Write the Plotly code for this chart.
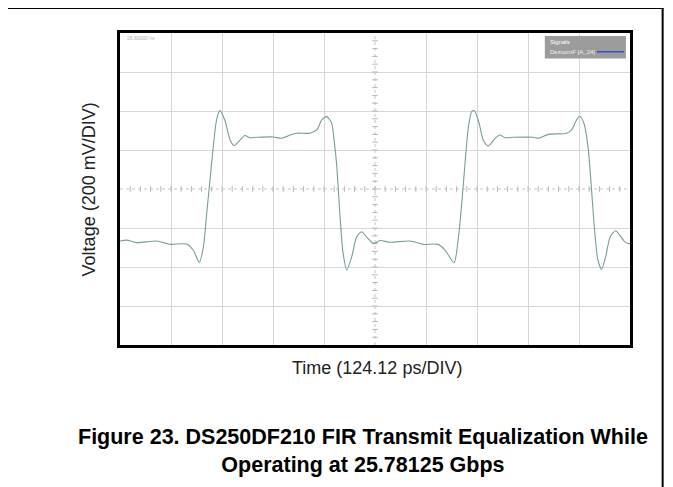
import plotly.graph_objects as go

# ---- data (read from the scope capture) ----
time_ps = [0, 16, 41, 89, 122, 162, 178, 193, 203, 211, 219, 227, 235, 243, 255, 268, 278, 292,
           304, 316, 333, 373, 393, 414, 430, 462, 479, 491, 503, 515, 521, 527, 535, 543, 552,
           564, 576, 588, 600, 617, 633, 657, 706, 738, 774, 791, 813, 823, 831, 839, 848, 856,
           862, 874, 884, 896, 913, 925, 937, 957, 1006, 1018, 1042, 1087, 1099, 1111, 1119,
           1129, 1139, 1147, 1155, 1163, 1172, 1182, 1193, 1206, 1216, 1228, 1236, 1241]
voltage_mv = [-267, -262, -275, -267, -284, -282, -313, -376, -296, -125, 46, 217, 354, 402, 354,
              251, 222, 251, 274, 263, 265, 267, 260, 277, 286, 286, 303, 354, 371, 337, 251, 132,
              -125, -330, -415, -347, -245, -219, -245, -279, -264, -273, -267, -284, -284, -313,
              -378, -261, -91, 114, 320, 397, 402, 337, 251, 221, 260, 277, 263, 265, 265, 260,
              280, 286, 303, 354, 373, 337, 217, 12, -210, -364, -412, -347, -245, -214, -236,
              -270, -279, -280]

PS_PER_DIV = 124.12
MV_PER_DIV = 200
N_XDIV = 10
N_YDIV = 8

x_max = PS_PER_DIV * N_XDIV
y_half = MV_PER_DIV * N_YDIV / 2
x_center = x_max / 2

x_grid = [PS_PER_DIV * k for k in range(1, N_XDIV) if k != N_XDIV // 2]
y_grid = [-y_half + MV_PER_DIV * k for k in range(1, N_YDIV) if k != N_YDIV // 2]

fig = go.Figure()

# center graticule ticks
hx = [PS_PER_DIV / 5 * k for k in range(1, N_XDIV * 5)]
vy = [-y_half + MV_PER_DIV / 5 * k for k in range(1, N_YDIV * 5)]
fig.add_trace(go.Scatter(x=hx, y=[0] * len(hx), mode="markers", hoverinfo="skip",
                         marker=dict(symbol="line-ns", size=4, line=dict(width=1, color="#b8b8b8"))))
fig.add_trace(go.Scatter(x=[x_center] * len(vy), y=vy, mode="markers", hoverinfo="skip",
                         marker=dict(symbol="line-ew", size=4, line=dict(width=1, color="#b8b8b8"))))

fig.add_trace(go.Scatter(x=time_ps, y=voltage_mv, mode="lines",
                         line=dict(color="#789c9c", width=1.1, shape="spline", smoothing=0.7)))

fig.add_shape(type="line", xref="x", yref="y", x0=0, x1=x_max, y0=0, y1=0,
              line=dict(color="#c4c4c4", width=1, dash="dot"), layer="below")
fig.add_shape(type="line", xref="x", yref="y", x0=x_center, x1=x_center, y0=-y_half, y1=y_half,
              line=dict(color="#c4c4c4", width=1, dash="dot"), layer="below")

# page frame lines
fig.add_shape(type="line", xref="paper", yref="paper", x0=-0.25, x1=1.066, y0=1.08, y1=1.08,
              line=dict(color="black", width=2))
fig.add_shape(type="line", xref="paper", yref="paper", x0=1.064, x1=1.064, y0=1.08, y1=-0.5,
              line=dict(color="black", width=2))

# legend box (scope)
fig.add_shape(type="rect", xref="paper", yref="paper", x0=0.833, x1=0.992, y0=0.918, y1=0.99,
              fillcolor="#9c9c9c", line=dict(width=0))
fig.add_shape(type="line", xref="paper", yref="paper", x0=0.935, x1=0.988, y0=0.94, y1=0.94,
              line=dict(color="#3050d0", width=1.5))
fig.add_annotation(xref="paper", yref="paper", x=0.84, y=0.97, text="Signals", showarrow=False,
                   xanchor="left", yanchor="middle", font=dict(size=6, color="white", family="Liberation Sans"))
fig.add_annotation(xref="paper", yref="paper", x=0.84, y=0.94, text="DezoomF [A_24]", showarrow=False,
                   xanchor="left", yanchor="middle", font=dict(size=6, color="#f0f0f0", family="Liberation Sans"))
fig.add_annotation(xref="paper", yref="paper", x=0.01, y=0.985, text="29.60000 ns", showarrow=False,
                   xanchor="left", yanchor="middle", font=dict(size=5, color="#b0b0b0", family="Liberation Sans"))

# axis labels and caption
fig.add_annotation(xref="paper", yref="paper", x=0.503, y=-0.075, text="Time (124.12 ps/DIV)",
                   showarrow=False, xanchor="center", yanchor="middle",
                   font=dict(size=18, color="#222", family="Liberation Sans"))
fig.add_annotation(xref="paper", yref="paper", x=-0.06, y=0.5, text="Voltage (200 mV/DIV)", textangle=-90,
                   showarrow=False, xanchor="center", yanchor="middle",
                   font=dict(size=18, color="#222", family="Liberation Sans"))
fig.add_annotation(xref="paper", yref="paper", x=0.477, y=-0.34,
                   text="<b>Figure 23. DS250DF210 FIR Transmit Equalization While<br>Operating at 25.78125 Gbps</b>",
                   showarrow=False, xanchor="center", yanchor="middle", align="center",
                   font=dict(size=21.5, color="black", family="Liberation Sans Narrow, Liberation Sans"))

fig.update_layout(
    width=665, height=479,
    margin=dict(l=112, r=43, t=25, b=142),
    paper_bgcolor="white", plot_bgcolor="white",
    showlegend=False,
    xaxis=dict(range=[0, x_max], tickvals=x_grid, showticklabels=False, ticks="",
               showgrid=True, gridcolor="#d6d6d6", gridwidth=1, zeroline=False,
               showline=True, mirror=True, linecolor="black", linewidth=2.5),
    yaxis=dict(range=[-y_half, y_half], tickvals=y_grid, showticklabels=False, ticks="",
               showgrid=True, gridcolor="#d6d6d6", gridwidth=1, zeroline=False,
               showline=True, mirror=True, linecolor="black", linewidth=2.5),
)

fig.write_html("out.html")
